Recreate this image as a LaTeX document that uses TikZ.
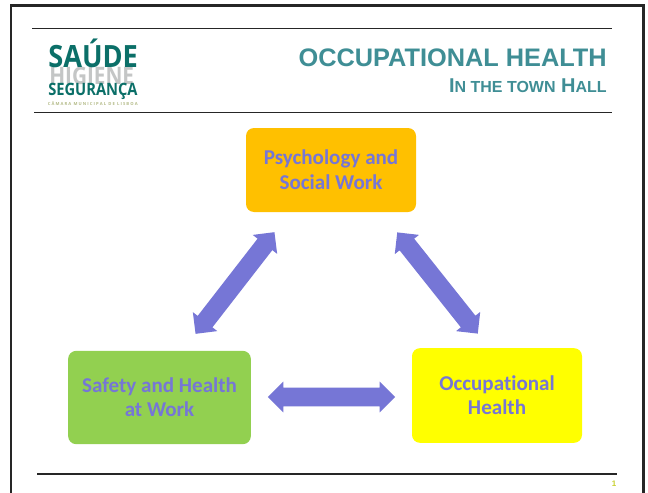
\documentclass[tikz,border=0pt]{standalone}
\usepackage{fontspec}
\setmainfont{Liberation Sans}
\newfontfamily\carlito[Ligatures=NoCommon]{Carlito}
\newfontfamily\logofont{Open Sans}
\usetikzlibrary{shapes.arrows}
\definecolor{teal1}{HTML}{3F8E95}
\definecolor{logoteal}{HTML}{0B6F68}
\definecolor{logogray}{HTML}{C4C6C6}
\definecolor{logoolive}{HTML}{B5BC8A}
\definecolor{arrowblue}{HTML}{7676D6}
\definecolor{pageno}{HTML}{C8D030}
\definecolor{boxorange}{HTML}{FFC000}
\definecolor{boxgreen}{HTML}{92D050}
\definecolor{boxyellow}{HTML}{FFFF00}
\tikzset{
  x=0.75pt,y=-0.75pt,
  rulebar/.style={line width=0.9pt,black!85},
  framebar/.style={line width=2.2pt,black!85},
  box/.style={rounded corners=6pt,inner sep=0pt,align=center,font=\carlito\bfseries\fontsize{15.8}{18}\selectfont,text=arrowblue},
  blockarrow/.style={double arrow,fill=arrowblue,draw=none,inner xsep=0pt,inner ysep=6.8pt,outer sep=0pt,
    minimum width=22.5pt,double arrow head extend=4.6pt,double arrow tip angle=90},
  logoline/.style={inner sep=0pt,anchor=west,font=\logofont\bfseries},
}
\begin{document}
\begin{tikzpicture}
\useasboundingbox (0,0) rectangle (648,492);
\fill[white] (0,0) rectangle (648,492);
\draw[framebar] (11,494) |- (643.5,5.5) -- (643.5,494);
\coordinate (r1a) at (32,28.5); \coordinate (r1b) at (612,28.5);
\coordinate (r2a) at (34,112.5); \coordinate (r2b) at (612,112.5);
\coordinate (r3a) at (37,474); \coordinate (r3b) at (617,474);
\draw[rulebar] (r1a) -- (r1b);
\draw[rulebar] (r2a) -- (r2b);
\draw[rulebar] (r3a) -- (r3b);
\node[inner sep=0pt,anchor=east,text=teal1,font=\bfseries\fontsize{19}{21}\selectfont] (title) at (607,58) {OCCUPATIONAL HEALTH};
\node[inner sep=0pt,anchor=east,text=teal1,font=\bfseries\fontsize{15}{17}\selectfont] (subtitle) at (607,86) {I{\fontsize{12}{14}\selectfont N THE TOWN} H{\fontsize{12}{14}\selectfont ALL}};
\node[logoline,text=logogray,font=\logofont] (l2) at (49,76) {\scalebox{0.82}[0.95]{\fontsize{19}{20}\bfseries\selectfont HIGIENE}};
\node[logoline,text=logoteal] (l1) at (48,53) {\scalebox{1.02}[1.15]{\fontsize{20}{22}\selectfont SAÚDE}};
\node[logoline,text=logoteal] (l3) at (48,91.5) {\scalebox{0.76}[0.88]{\fontsize{14.5}{16}\selectfont SEGURANÇA}};
\node[logoline,text=logoolive] (l4) at (47.5,104) {\fontsize{3.15}{4}\selectfont C Â M A R A\ \ M U N I C I P A L\ \ D E\ \ L I S B O A};
\node[box,fill=boxorange,minimum width=127.5pt,minimum height=63pt] (psy) at (331,170) {\raisebox{0.6pt}{Psychology and}\\Social Work};
\node[box,fill=boxgreen,minimum width=137pt,minimum height=70pt] (saf) at (159.5,397.5) {Safety and Health\\at Work};
\node[box,fill=boxyellow,minimum width=127.5pt,minimum height=71pt] (occ) at (497,395.5) {Occupational\\Health};
\node[blockarrow,minimum height=96.5pt,rotate=52.2] (a1) at (235,283) {};
\node[blockarrow,minimum height=97pt,rotate=-51.5] (a2) at (437.5,283) {};
\node[blockarrow,minimum height=95.5pt] (a3) at (331.5,397) {};
\node[inner sep=0pt,text=pageno,font=\bfseries\fontsize{6}{7}\selectfont] (pg) at (614,484) {1};
\end{tikzpicture}
\end{document}
